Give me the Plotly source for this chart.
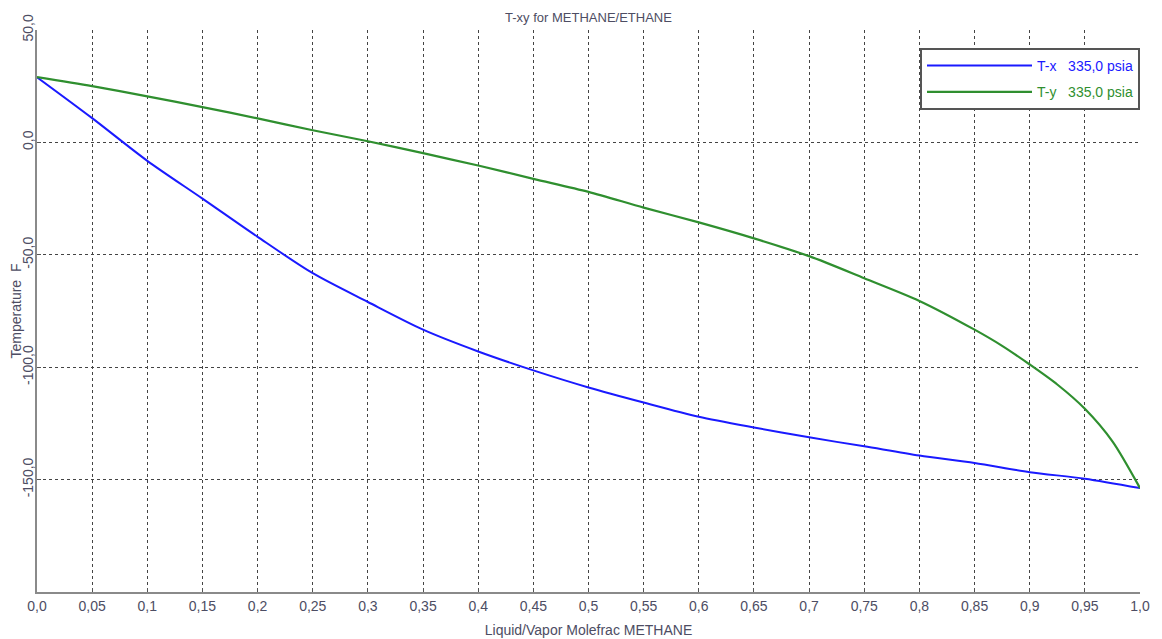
import plotly.graph_objects as go

x_vals = [0.0, 0.05, 0.1, 0.15, 0.2, 0.25, 0.3, 0.35, 0.4, 0.45, 0.5, 0.55, 0.6, 0.65, 0.7, 0.75, 0.8, 0.85, 0.9, 0.95, 1.0]
t_x = [29.0, 10.8, -8.2, -25.0, -42.0, -58.2, -71.0, -83.3, -93.0, -101.4, -109.0, -115.7, -122.0, -126.8, -131.2, -135.2, -139.3, -142.6, -146.7, -149.6, -153.8]

y_vals = [0.0, 0.05, 0.1, 0.15, 0.2, 0.25, 0.3, 0.35, 0.4, 0.45, 0.5, 0.55, 0.6, 0.65, 0.7, 0.75, 0.8, 0.85, 0.875, 0.9, 0.925, 0.95, 0.975, 1.0]
t_y = [29.0, 25.0, 20.5, 15.7, 10.7, 5.4, 0.5, -4.8, -10.3, -16.2, -22.0, -29.0, -35.6, -42.7, -50.6, -60.4, -70.5, -83.3, -90.5, -98.8, -107.7, -118.5, -133.0, -153.8]

x_tick_vals = [0.0, 0.05, 0.1, 0.15, 0.2, 0.25, 0.3, 0.35, 0.4, 0.45, 0.5, 0.55, 0.6, 0.65, 0.7, 0.75, 0.8, 0.85, 0.9, 0.95, 1.0]
x_tick_text = ["0,0", "0,05", "0,1", "0,15", "0,2", "0,25", "0,3", "0,35", "0,4", "0,45", "0,5",
               "0,55", "0,6", "0,65", "0,7", "0,75", "0,8", "0,85", "0,9", "0,95", "1,0"]
y_tick_vals = [-150, -100, -50, 0, 50]
y_tick_text = ["-150,0", "-100,0", "-50,0", "0,0", "50,0"]

series_names = ["T-x   335,0 psia", "T-y   335,0 psia"]
blue = "#1a1aff"
green = "#2f8f2f"
text_color = "#4d4d63"
font_family = "Liberation Sans, Arial, sans-serif"

fig = go.Figure()
fig.add_trace(go.Scatter(
    x=x_vals, y=t_x, mode="lines", legendgroup="a",
    line=dict(color=blue, width=2, shape="spline", smoothing=0.8),
    name="<span style='color:%s'>%s</span>" % (blue, series_names[0])))
fig.add_trace(go.Scatter(
    x=y_vals, y=t_y, mode="lines", legendgroup="b",
    line=dict(color=green, width=2.2, shape="spline", smoothing=0.8),
    name="<span style='color:%s'>%s</span>" % (green, series_names[1])))

# page body has an 8px margin, so the figure is sized to fit the 1162x639 window
fig.update_layout(
    width=1154, height=631,
    margin=dict(l=29, r=22, t=22, b=47),
    paper_bgcolor="white", plot_bgcolor="white",
    font=dict(family=font_family, size=14, color=text_color),
    title=dict(text="T-xy for METHANE/ETHANE", x=0.5, xref="paper", xanchor="center",
               y=1, yref="paper", yanchor="bottom", pad=dict(b=8), font=dict(size=13, color=text_color)),
    showlegend=True,
    legend=dict(x=1.0, xanchor="right", y=0.968, yanchor="top",
                bgcolor="white", bordercolor="#555555", borderwidth=2,
                font=dict(size=14), itemwidth=105, tracegroupgap=5),
)

fig.update_xaxes(
    range=[0, 1.0], tickvals=x_tick_vals, ticktext=x_tick_text,
    showgrid=True, gridcolor="#444444", gridwidth=1, griddash="dot",
    showline=True, linecolor="#8a8a8a", linewidth=2,
    ticks="inside", ticklen=4, tickcolor="#555555",
    title=dict(text="Liquid/Vapor Molefrac METHANE", standoff=12, font=dict(size=14)),
    zeroline=False, automargin=False,
)
fig.update_yaxes(
    range=[-200, 50], tickvals=y_tick_vals, ticktext=y_tick_text, tickangle=-90,
    ticklabelstandoff=-4,
    showgrid=True, gridcolor="#444444", gridwidth=1, griddash="dot",
    showline=True, linecolor="#8a8a8a", linewidth=2,
    ticks="inside", ticklen=4, tickcolor="#555555",
    title=dict(text="Temperature  F", standoff=0, font=dict(size=14)),
    zeroline=False, automargin=False,
)

fig.write_html("out.html")
